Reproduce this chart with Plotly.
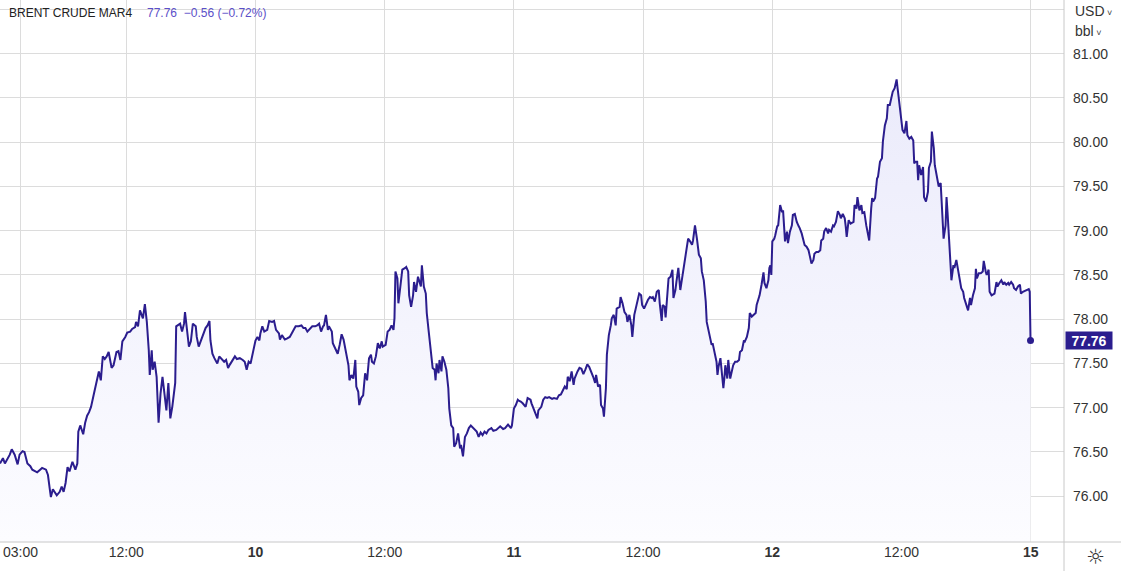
import plotly.graph_objects as go

# ---------------- data (Brent crude MAR4, trading session 01:00-23:00 London) -------------
DAY9_DATE = "2024-01-09"
DAY9_TIMES = ["01:15","01:30","01:40","01:50","02:05","02:15","02:30","02:45","02:55","03:10","03:20","03:35",
              "03:50","04:00","04:15","04:25","04:40","04:50","05:10","05:20","05:30","05:35","05:45","05:55",
              "06:05","06:20","06:30","06:40","06:50","07:00","07:10","07:25","07:40","07:50","07:55","08:05",
              "08:20","08:30","08:40","08:50","09:00","09:15","09:30","09:40","09:50","10:00","10:10","10:20",
              "10:30","10:45","10:55","11:10","11:20","11:30","11:40","11:55","12:05","12:20","12:30","12:45",
              "12:50","13:00","13:10","13:25","13:35","13:45","13:55","14:00","14:10","14:15","14:25","14:35",
              "14:45","14:55","15:05","15:15","15:25","15:35","15:45","15:55","16:10","16:15","16:30","16:35",
              "16:45","16:55","17:00","17:10","17:20","17:30","17:40","17:55","18:00","18:10","18:25","18:35",
              "18:45","18:55","19:05","19:10","19:20","19:30","19:45","19:55","20:05","20:20","20:30","20:40",
              "20:50","21:05","21:15","21:25","21:40","21:55","22:05","22:15","22:25","22:35"]
DAY9_PRICES = [76.37,76.43,76.37,76.41,76.47,76.53,76.47,76.36,76.47,76.51,76.50,76.37,
               76.34,76.30,76.28,76.27,76.30,76.32,76.30,76.24,76.07,75.99,76.08,76.05,
               76.01,76.05,76.11,76.05,76.15,76.33,76.28,76.39,76.30,76.37,76.73,76.80,
               76.70,76.83,76.91,76.95,77.01,77.16,77.33,77.41,77.31,77.58,77.55,77.58,
               77.63,77.45,77.48,77.63,77.64,77.54,77.75,77.80,77.85,77.86,77.89,77.91,
               77.97,77.92,78.10,78.01,78.17,77.97,77.65,77.37,77.65,77.43,77.52,77.35,
               76.83,77.16,77.35,77.16,76.97,77.28,76.88,77.01,77.28,77.92,77.95,77.95,
               77.86,77.95,78.08,77.84,77.69,77.75,77.95,77.92,77.80,77.69,77.78,77.86,
               77.90,77.93,77.98,77.76,77.61,77.56,77.50,77.58,77.56,77.52,77.54,77.45,
               77.49,77.54,77.58,77.55,77.56,77.54,77.52,77.43,77.52,77.50]

DAY10_DATE = "2024-01-10"
DAY10_TIMES = ["01:00","01:10","01:20","01:25","01:35","01:45","02:00","02:10","02:25","02:35","02:45","03:00",
               "03:05","03:15","03:30","03:40","03:55","04:05","04:15","04:25","04:40","04:55","05:05","05:15",
               "05:25","05:40","05:50","06:05","06:15","06:25","06:35","06:45","06:50","07:00","07:10","07:15",
               "07:30","07:35","07:45","07:55","08:00","08:10","08:20","08:30","08:40","08:55","09:00","09:10",
               "09:20","09:30","09:35","09:45","09:50","10:00","10:10","10:20","10:30","10:40","10:50","10:55",
               "11:05","11:15","11:25","11:35","11:45","11:50","12:05","12:15","12:25","12:35","12:45","12:50",
               "12:55","13:05","13:10","13:20","13:30","13:45","13:50","14:00","14:05","14:15","14:25","14:30",
               "14:40","14:50","15:00","15:05","15:10","15:20","15:30","15:35","15:45","15:55","16:05","16:15",
               "16:20","16:25","16:35","16:40","16:50","16:55","17:05","17:15","17:25","17:30","17:40","17:50",
               "17:55","18:05","18:15","18:25","18:30","18:40","18:50","19:00","19:10","19:20","19:35","19:50",
               "20:00","20:10","20:20","20:30","20:40","20:50","21:05","21:15","21:30","21:40","21:50","22:05",
               "22:15","22:30","22:45","22:50"]
DAY10_PRICES = [77.76,77.80,77.76,77.84,77.92,77.86,77.88,77.98,77.97,77.98,77.88,77.84,
                77.77,77.82,77.77,77.78,77.80,77.84,77.89,77.92,77.92,77.93,77.90,77.90,
                77.86,77.89,77.92,77.92,77.93,77.95,77.86,77.92,77.93,78.05,77.88,77.92,
                77.86,77.73,77.68,77.63,77.61,77.71,77.83,77.77,77.65,77.48,77.31,77.37,
                77.33,77.54,77.24,77.18,77.03,77.11,77.14,77.39,77.31,77.56,77.60,77.52,
                77.50,77.58,77.73,77.67,77.75,77.69,77.71,77.86,77.88,77.93,77.88,78.01,
                78.54,78.46,78.18,78.35,78.56,78.58,78.59,78.54,78.27,78.14,78.27,78.42,
                78.31,78.48,78.42,78.37,78.61,78.37,78.29,78.07,77.86,77.63,77.45,77.43,
                77.31,77.50,77.39,77.54,77.41,77.58,77.52,77.43,77.22,76.99,76.80,76.77,
                76.56,76.60,76.71,76.54,76.58,76.45,76.67,76.71,76.77,76.80,76.77,76.73,
                76.67,76.72,76.69,76.73,76.71,76.75,76.77,76.74,76.75,76.77,76.79,76.76,
                76.77,76.81,76.77,76.80]

DAY11_DATE = "2024-01-11"
DAY11_TIMES = ["01:00","01:10","01:20","01:25","01:35","01:45","02:00","02:10","02:25","02:30","02:40","02:50",
               "03:00","03:05","03:20","03:30","03:40","03:50","04:00","04:15","04:25","04:40","04:50","05:00",
               "05:10","05:20","05:30","05:35","05:45","05:55","06:05","06:10","06:25","06:35","06:45","06:55",
               "07:05","07:15","07:25","07:35","07:45","07:55","08:00","08:10","08:20","08:25","08:35","08:40",
               "08:50","08:55","09:05","09:15","09:20","09:30","09:40","09:45","10:00","10:05","10:15","10:25",
               "10:35","10:40","10:50","11:00","11:05","11:15","11:20","11:30","11:40","11:50","11:55","12:05",
               "12:15","12:25","12:35","12:45","12:50","13:00","13:10","13:20","13:25","13:35","13:40","13:50",
               "13:55","14:05","14:10","14:20","14:30","14:35","14:45","14:50","15:00","15:10","15:20","15:25",
               "15:35","15:45","15:50","16:00","16:10","16:15","16:25","16:35","16:45","16:55","17:00","17:10",
               "17:20","17:25","17:30","17:40","17:50","17:55","18:05","18:15","18:20","18:25","18:35","18:40",
               "18:50","18:55","19:00","19:10","19:15","19:25","19:35","19:40","19:50","20:00","20:10","20:15",
               "20:25","20:35","20:40","20:50","21:00","21:05","21:15","21:25","21:35","21:40","21:50","21:55",
               "22:05","22:15","22:20","22:30","22:40","22:45","22:50","22:55"]
DAY11_PRICES = [76.99,77.03,77.09,77.08,77.07,77.05,77.01,77.11,77.09,77.05,76.99,76.95,
                76.88,76.97,77.01,77.09,77.12,77.11,77.12,77.10,77.11,77.10,77.14,77.15,
                77.20,77.24,77.21,77.35,77.30,77.41,77.26,77.33,77.41,77.45,77.44,77.38,
                77.43,77.49,77.46,77.41,77.35,77.28,77.37,77.24,77.26,77.03,76.99,76.90,
                77.22,77.60,77.82,77.93,78.01,78.05,77.93,78.12,78.14,78.25,78.18,78.08,
                78.05,77.97,78.05,77.93,77.80,78.05,78.10,78.20,78.29,78.27,78.16,78.12,
                78.18,78.22,78.25,78.24,78.25,78.20,78.31,78.33,78.18,77.98,78.16,78.14,
                78.02,78.27,78.46,78.48,78.56,78.24,78.33,78.42,78.58,78.33,78.48,78.54,
                78.69,78.82,78.91,78.88,78.84,78.89,79.06,78.91,78.73,78.69,78.54,78.44,
                78.20,77.97,77.92,77.82,77.71,77.73,77.63,77.52,77.37,77.46,77.56,77.41,
                77.22,77.33,77.48,77.33,77.54,77.33,77.46,77.48,77.52,77.52,77.54,77.63,
                77.65,77.76,77.75,77.80,77.90,78.07,78.03,78.05,78.07,78.16,78.24,78.27,
                78.39,78.53,78.41,78.35,78.44,78.58,78.61,78.50]

DAY12_DATE = "2024-01-12"
DAY12_TIMES = ["01:00","01:10","01:15","01:25","01:30","01:40","01:50","01:55","02:05","02:15","02:20","02:30",
               "02:40","02:45","02:55","03:05","03:15","03:20","03:30","03:40","03:45","03:55","04:05","04:10",
               "04:20","04:30","04:35","04:45","04:55","05:05","05:10","05:20","05:25","05:35","05:45","05:50",
               "06:00","06:10","06:15","06:25","06:35","06:45","06:50","07:00","07:10","07:15","07:20","07:30",
               "07:40","07:55","08:00","08:10","08:15","08:25","08:35","08:40","08:50","09:00","09:05","09:15",
               "09:25","09:30","09:35","09:45","09:55","10:00","10:10","10:20","10:25","10:35","10:45","10:50",
               "11:00","11:10","11:15","11:25","11:35","11:40","11:50","11:55","12:05","12:15","12:25","12:30",
               "12:40","12:50","13:00","13:05","13:10","13:20","13:25","13:30","13:40","13:50","13:55","14:05",
               "14:15","14:20","14:30","14:35","14:45","14:50","15:00","15:05","15:10","15:20","15:25","15:30",
               "15:35","15:45","15:50","15:55","16:00","16:10","16:15","16:25","16:30","16:40","16:50","16:55",
               "17:05","17:15","17:20","17:30","17:40","17:50","17:55","18:05","18:15","18:20","18:25","18:35",
               "18:45","18:55","19:00","19:10","19:15","19:25","19:30","19:40","19:45","19:55","20:05","20:10",
               "20:20","20:30","20:40","20:45","20:55","21:05","21:10","21:20","21:30","21:35","21:45","21:55",
               "22:05","22:10","22:20","22:30","22:35","22:50","22:55","22:59"]
DAY12_PRICES = [78.88,78.91,78.95,79.05,79.06,79.29,79.21,79.23,78.88,78.99,78.86,78.99,
                79.06,79.18,79.19,79.10,79.05,79.03,78.97,78.89,78.84,78.82,78.78,78.73,
                78.63,78.67,78.74,78.76,78.76,78.78,78.89,78.91,78.99,79.03,78.97,79.01,
                78.99,79.06,79.05,79.10,79.22,79.18,79.14,79.19,79.14,79.05,78.93,79.12,
                79.08,79.10,79.29,79.25,79.38,79.23,79.29,79.20,79.21,79.06,78.99,78.89,
                79.25,79.37,79.33,79.37,79.59,79.61,79.78,79.82,80.01,80.19,80.27,80.42,
                80.42,80.55,80.57,80.61,80.71,80.61,80.44,80.33,80.14,80.10,80.24,80.08,
                80.04,80.06,80.02,79.76,79.78,79.78,79.57,79.74,79.63,79.72,79.38,79.33,
                79.44,79.71,79.78,80.12,79.93,79.74,79.63,79.54,79.50,79.54,79.37,79.12,
                78.91,79.06,79.38,79.21,79.03,78.61,78.44,78.61,78.58,78.67,78.50,78.48,
                78.35,78.31,78.24,78.18,78.10,78.24,78.16,78.27,78.35,78.57,78.46,78.52,
                78.52,78.54,78.66,78.54,78.50,78.56,78.31,78.27,78.28,78.29,78.42,78.37,
                78.41,78.44,78.39,78.42,78.39,78.41,78.39,78.42,78.39,78.35,78.33,78.37,
                78.39,78.29,78.31,78.32,78.33,78.34,78.31,77.76]

PREV_SETTLE = 78.32
TITLE = "BRENT CRUDE MAR4"
CURRENCY = "USD"
UNIT = "bbl"

X_TICK_VALS = ["2024-01-09 03:00", "2024-01-09 12:00", "2024-01-10 01:00", "2024-01-10 12:00",
               "2024-01-11 01:00", "2024-01-11 12:00", "2024-01-12 01:00", "2024-01-12 12:00",
               "2024-01-15 01:00"]
X_TICK_TEXT = ["03:00", "12:00", "<b>10</b>", "12:00", "<b>11</b>", "12:00", "<b>12</b>", "12:00", "<b>15</b>"]
X_RANGE = ["2024-01-09 01:15", "2024-01-15 03:50"]

Y_TICK_VALS = [76.0, 76.5, 77.0, 77.5, 78.0, 78.5, 79.0, 79.5, 80.0, 80.5, 81.0, 81.5]
Y_RANGE = [75.483, 81.607]

# ---------------- build ----------------
times, prices = [], []
for d, ts, ps in [(DAY9_DATE, DAY9_TIMES, DAY9_PRICES), (DAY10_DATE, DAY10_TIMES, DAY10_PRICES),
                  (DAY11_DATE, DAY11_TIMES, DAY11_PRICES), (DAY12_DATE, DAY12_TIMES, DAY12_PRICES)]:
    times += [f"{d} {t}" for t in ts]
    prices += ps

LINE = "#2b1d8e"
FONT = "Arial, 'Liberation Sans', sans-serif"
W, H = 1121, 571
L, R, T, B = 0, 57, 0, 29
PW, PH = W - L - R, H - T - B

last = prices[-1]
chg = last - PREV_SETTLE
pct = chg / PREV_SETTLE * 100

fig = go.Figure()
fig.add_trace(go.Scatter(
    x=times, y=prices, mode="lines",
    line=dict(color=LINE, width=2),
    fill="tozeroy",
    fillgradient=dict(type="vertical",
                      colorscale=[[0, "rgba(252,252,255,1)"], [1, "rgba(235,235,251,1)"]],
                      start=Y_RANGE[0], stop=max(prices)),
    hoverinfo="skip", showlegend=False))
fig.add_trace(go.Scatter(
    x=[times[-1]], y=[last], mode="markers",
    marker=dict(color=LINE, size=7), hoverinfo="skip", showlegend=False, cliponaxis=False))

fig.update_layout(
    width=W, height=H,
    margin=dict(l=L, r=R, t=T, b=B, autoexpand=False),
    paper_bgcolor="white", plot_bgcolor="white",
    font=dict(family=FONT, size=14, color="#333333"),
    showlegend=False,
    xaxis=dict(
        type="date", range=X_RANGE, automargin=False,
        rangebreaks=[dict(bounds=["sat", "mon"]), dict(pattern="hour", bounds=[23, 1])],
        tickmode="array", tickvals=X_TICK_VALS, ticktext=X_TICK_TEXT,
        showgrid=True, gridcolor="#dcdcdc", gridwidth=1,
        zeroline=False, showline=False, ticks="",
        tickfont=dict(size=14, color="#333333"),
    ),
    yaxis=dict(
        side="right", range=Y_RANGE, automargin=False,
        tickmode="array", tickvals=Y_TICK_VALS,
        ticktext=[f"{v:.2f}" if v <= 81 else "" for v in Y_TICK_VALS],
        showgrid=True, gridcolor="#dcdcdc", gridwidth=1,
        zeroline=False, showline=False, ticks="",
        ticklabelstandoff=8,
        tickfont=dict(size=14, color="#333333"),
    ),
)

def px_x(px):
    return (px - L) / PW

def px_y(py):
    return 1 - (py - T) / PH

shapes = [
    dict(type="line", xref="paper", yref="paper", x0=1, x1=1, y0=px_y(H), y1=1,
         line=dict(color="#c8c8c8", width=1)),
    dict(type="line", xref="paper", yref="paper", x0=0, x1=px_x(W), y0=0, y1=0,
         line=dict(color="#c8c8c8", width=1)),
]
fig.update_layout(shapes=shapes)

annotations = [
    dict(text=TITLE, xref="paper", yref="paper", x=px_x(7), y=px_y(13),
         xanchor="left", yanchor="middle", showarrow=False,
         font=dict(size=12, color="#222222")),
    dict(text=f"{last:.2f}  {'−' if chg < 0 else '+'}{abs(chg):.2f} ({'−' if pct < 0 else '+'}{abs(pct):.2f}%)",
         xref="paper", yref="paper", x=px_x(145), y=px_y(13),
         xanchor="left", yanchor="middle", showarrow=False,
         font=dict(size=12, color="#5b4fc9")),
    dict(text=f"{CURRENCY}<span style='font-size:9px'> ˅</span>", xref="paper", yref="paper",
         x=px_x(1073), y=px_y(11), xanchor="left", yanchor="middle", showarrow=False,
         font=dict(size=14, color="#333333")),
    dict(text=f"{UNIT}<span style='font-size:9px'> ˅</span>", xref="paper", yref="paper",
         x=px_x(1073), y=px_y(31), xanchor="left", yanchor="middle", showarrow=False,
         font=dict(size=14, color="#333333")),
    dict(text=f"<b>{last:.2f}</b>", xref="paper", yref="y", x=px_x(1065), y=last,
         xanchor="left", yanchor="middle", showarrow=False,
         bgcolor=LINE, width=46, height=17, borderpad=0,
         font=dict(size=14, color="white")),
    dict(text="☼", xref="paper", yref="paper", x=px_x(1095), y=px_y(557),
         xanchor="center", yanchor="middle", showarrow=False,
         font=dict(size=21, color="#333333", family="DejaVu Sans")),
]
fig.update_layout(annotations=annotations)

fig.write_html("out.html", config={"displayModeBar": False},
               post_script="document.body.style.margin='0';document.body.style.overflow='hidden';")
